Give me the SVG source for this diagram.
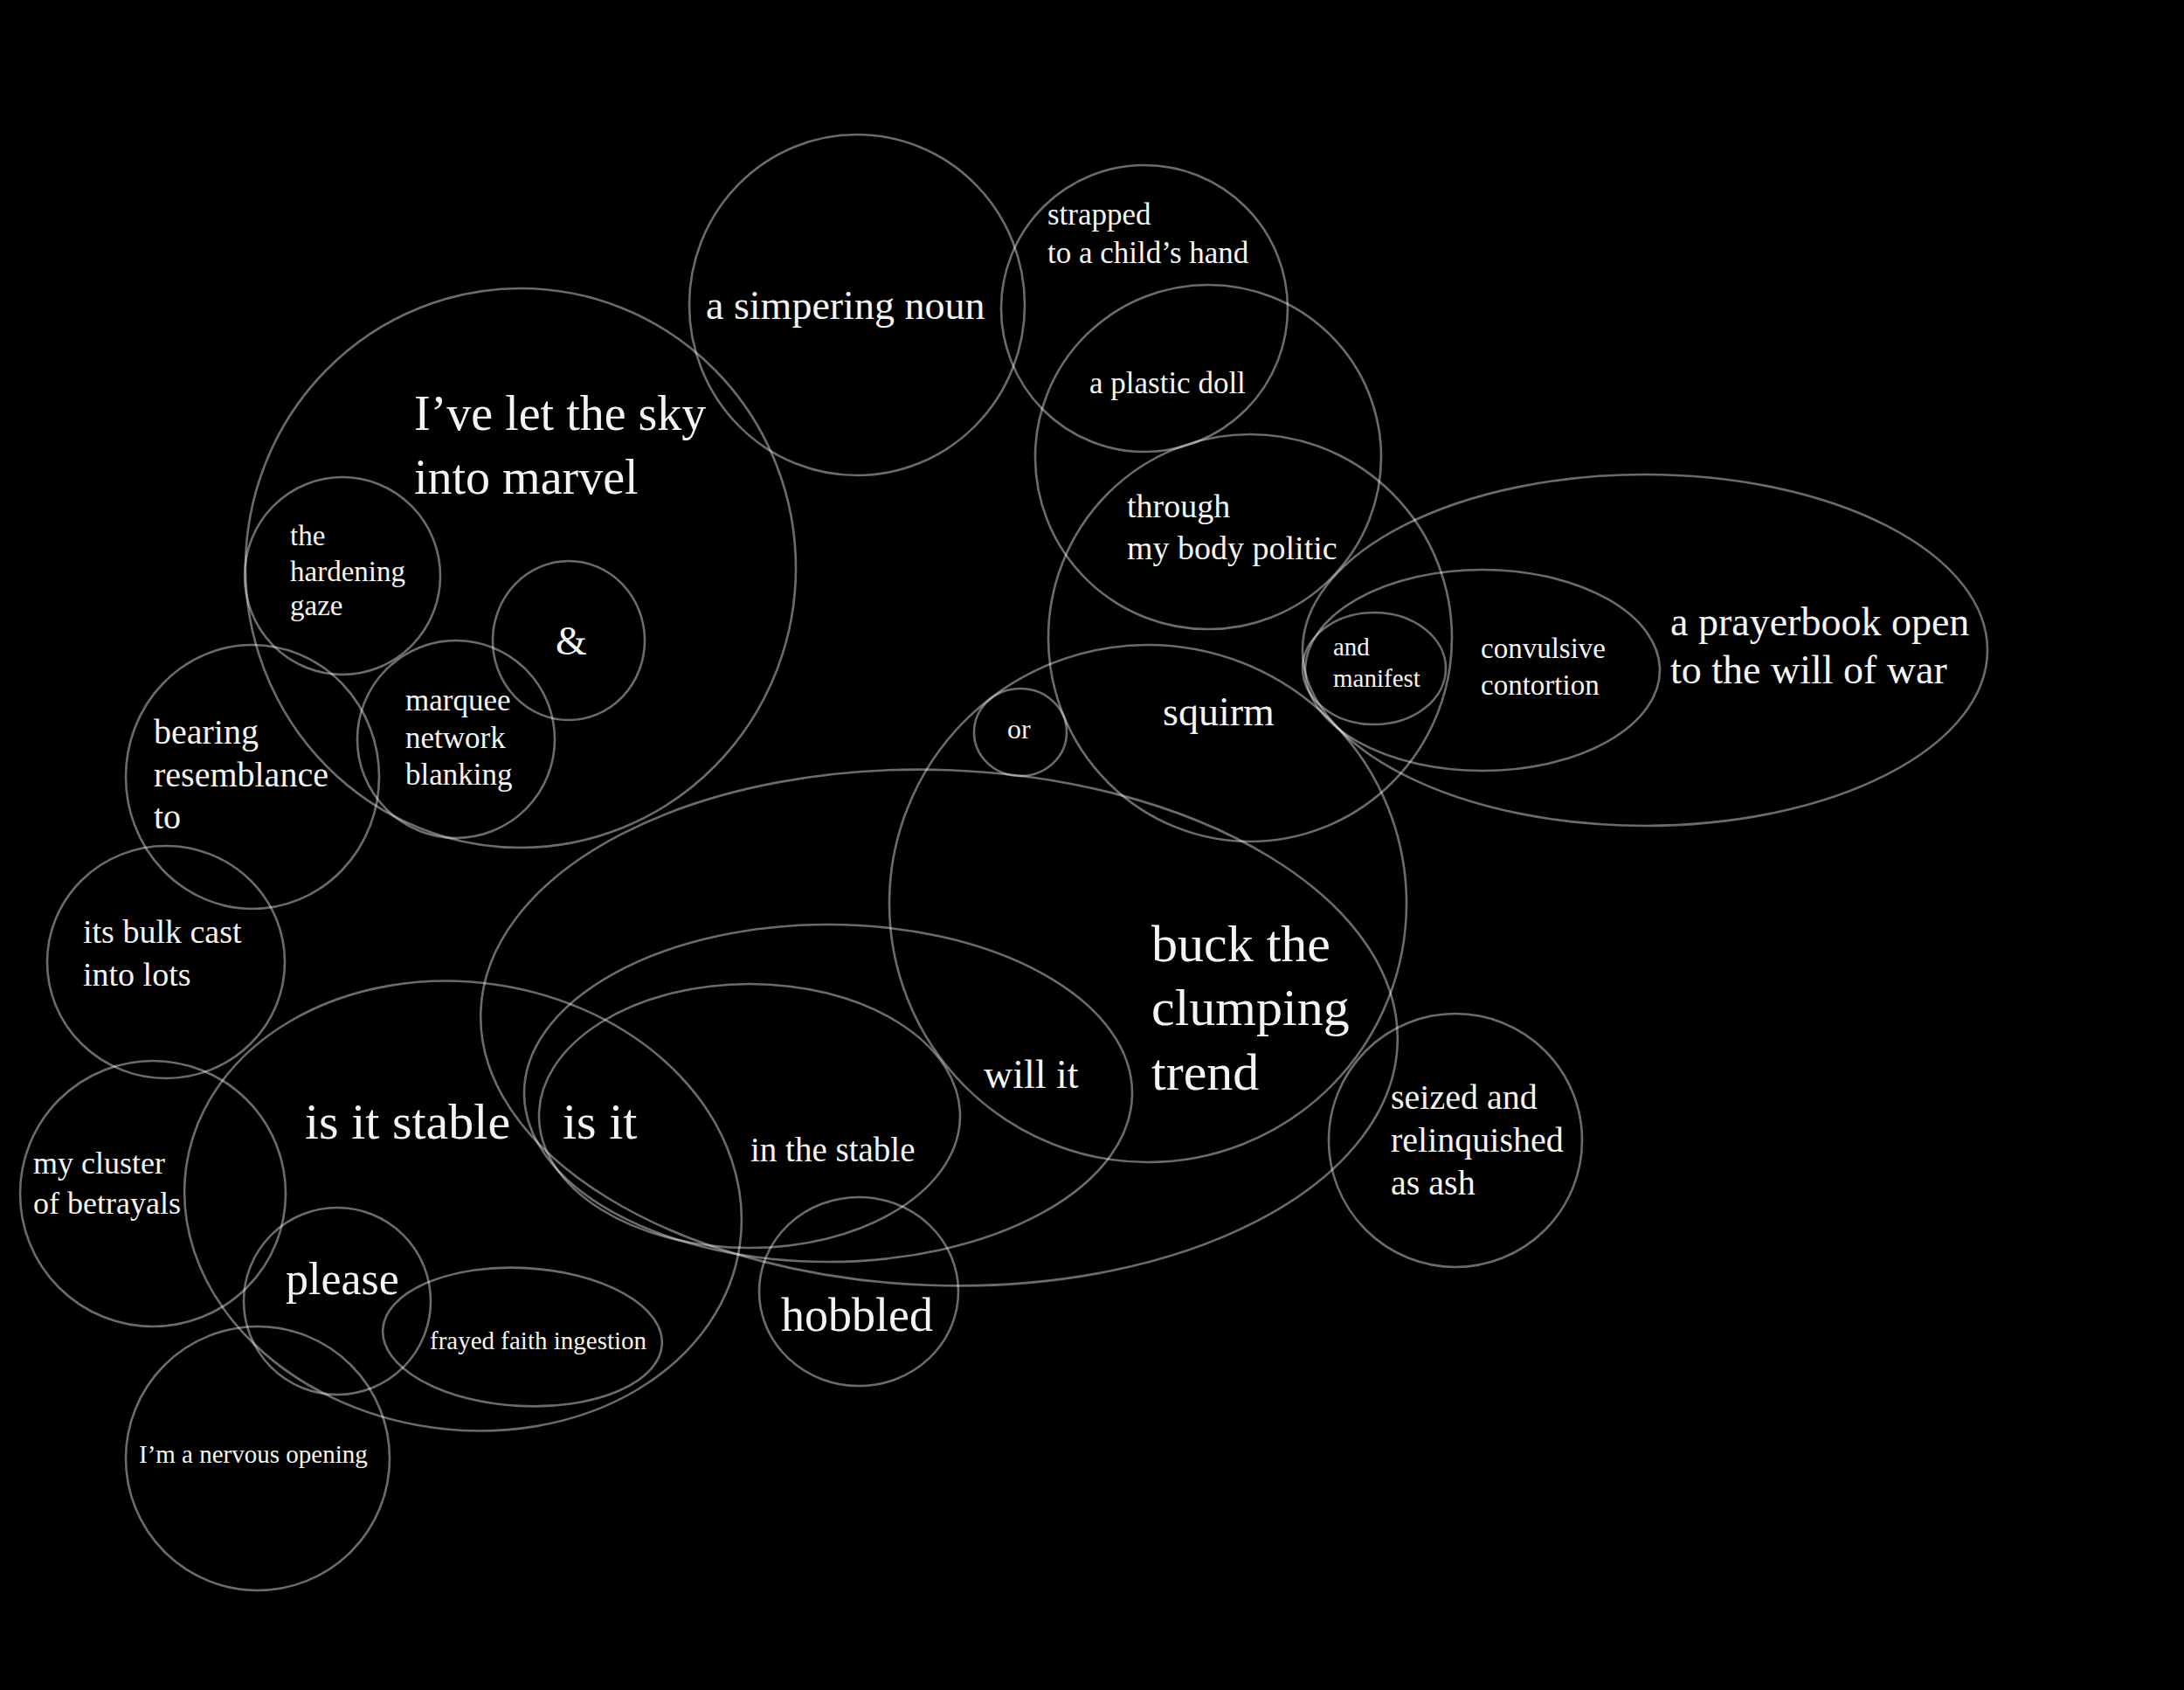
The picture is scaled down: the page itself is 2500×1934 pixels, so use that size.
<svg xmlns="http://www.w3.org/2000/svg" width="2500" height="1934" viewBox="0 0 2500 1934">
<style>
.s{fill:none;stroke:#ffffff;stroke-opacity:0.42;stroke-width:2.6}
text{fill:#f4f4f4;font-family:"Liberation Serif","DejaVu Serif",serif}
.f29{font-size:29px}.f32{font-size:32px}.f33{font-size:33px}.f35{font-size:35px}.f36{font-size:36px}.f38{font-size:38px}.f39{font-size:39px}.f40{font-size:40px}.f46{font-size:46px}.f52{font-size:52px}.f54{font-size:54px}.f56{font-size:56px}.f58{font-size:58px}.f60{font-size:60px}
</style>
<rect width="2500" height="1934" fill="#000"/>
<g id="connectors"/>
<g id="n-simpering"><ellipse class="s" cx="981" cy="349" rx="192" ry="195"/><text class="f46" x="808" y="365">a simpering noun</text></g>
<g id="n-strapped"><ellipse class="s" cx="1310" cy="353" rx="164" ry="164"/><text class="f35" x="1199" y="257">strapped</text><text class="f35" x="1199" y="301">to a child’s hand</text></g>
<g id="n-plastic"><ellipse class="s" cx="1383" cy="523" rx="198" ry="197"/><text class="f35" x="1247" y="450">a plastic doll</text></g>
<g id="n-through"><ellipse class="s" cx="1431" cy="730" rx="231" ry="233"/><text class="f38" x="1290" y="592">through</text><text class="f38" x="1290" y="640">my body politic</text></g>
<g id="n-sky"><ellipse class="s" cx="596" cy="650" rx="315" ry="320"/><text class="f56" x="474" y="492">I’ve let the sky</text><text class="f56" x="474" y="565">into marvel</text></g>
<g id="n-hardening"><ellipse class="s" cx="392" cy="659" rx="112" ry="113"/><text class="f33" x="332" y="624">the</text><text class="f33" x="332" y="665">hardening</text><text class="f33" x="332" y="704">gaze</text></g>
<g id="n-amp"><ellipse class="s" cx="651" cy="733" rx="87" ry="91"/><text class="f46" x="636" y="749">&amp;</text></g>
<g id="n-marquee"><ellipse class="s" cx="522" cy="846" rx="113" ry="113"/><text class="f35" x="464" y="813">marquee</text><text class="f35" x="464" y="856">network</text><text class="f35" x="464" y="898">blanking</text></g>
<g id="n-bearing"><ellipse class="s" cx="289" cy="889" rx="145" ry="151"/><text class="f40" x="176" y="851">bearing</text><text class="f40" x="176" y="900">resemblance</text><text class="f40" x="176" y="948">to</text></g>
<g id="n-bulk"><ellipse class="s" cx="190" cy="1101" rx="136" ry="133"/><text class="f38" x="95" y="1079">its bulk cast</text><text class="f38" x="95" y="1128">into lots</text></g>
<g id="n-cluster"><ellipse class="s" cx="175" cy="1366" rx="152" ry="152"/><text class="f36" x="38" y="1343">my cluster</text><text class="f36" x="38" y="1389">of betrayals</text></g>
<g id="n-stable"><ellipse class="s" cx="530" cy="1380" rx="320" ry="256" transform="rotate(8 530 1380)"/><text class="f58" x="349" y="1303">is it stable</text></g>
<g id="n-please"><ellipse class="s" cx="386" cy="1489" rx="107" ry="107"/><text class="f52" x="327" y="1481">please</text></g>
<g id="n-frayed"><ellipse class="s" cx="598" cy="1530" rx="160" ry="79" transform="rotate(3 598 1530)"/><text class="f29" x="492" y="1544">frayed faith ingestion</text></g>
<g id="n-nervous"><ellipse class="s" cx="295" cy="1669" rx="151" ry="151"/><text class="f29" x="159" y="1674">I’m a nervous opening</text></g>
<g id="n-big"><ellipse class="s" cx="1075" cy="1176" rx="525" ry="295" transform="rotate(2 1075 1176)"/></g>
<g id="n-willit"><ellipse class="s" cx="948" cy="1251" rx="348" ry="193"/><text class="f46" x="1126" y="1245">will it</text></g>
<g id="n-inthestable"><ellipse class="s" cx="858" cy="1277" rx="241" ry="151"/><text class="f58" x="644" y="1303">is it</text><text class="f39" x="859" y="1329">in the stable</text></g>
<g id="n-hobbled"><ellipse class="s" cx="983" cy="1478" rx="114" ry="108"/><text class="f54" x="894" y="1523">hobbled</text></g>
<g id="n-buck"><ellipse class="s" cx="1314" cy="1034" rx="296" ry="296"/><text class="f60" x="1318" y="1100">buck the</text><text class="f60" x="1318" y="1173">clumping</text><text class="f60" x="1318" y="1247">trend</text><text class="f46" x="1331" y="830">squirm</text></g>
<g id="n-or"><ellipse class="s" cx="1168" cy="838" rx="53" ry="50"/><text class="f32" x="1153" y="845">or</text></g>
<g id="n-seized"><ellipse class="s" cx="1666" cy="1305" rx="145" ry="145"/><text class="f40" x="1592" y="1269">seized and</text><text class="f40" x="1592" y="1318">relinquished</text><text class="f40" x="1592" y="1367">as ash</text></g>
<g id="n-prayerbook"><ellipse class="s" cx="1883" cy="744" rx="392" ry="201"/><text class="f46" x="1912" y="727">a prayerbook open</text><text class="f46" x="1912" y="782">to the will of war</text></g>
<g id="n-convulsive"><ellipse class="s" cx="1697" cy="767" rx="203" ry="115"/><text class="f33" x="1695" y="753">convulsive</text><text class="f33" x="1695" y="795">contortion</text></g>
<g id="n-manifest"><ellipse class="s" cx="1573" cy="765" rx="82" ry="64"/><text class="f29" x="1526" y="750">and</text><text class="f29" x="1526" y="786">manifest</text></g>
</svg>
